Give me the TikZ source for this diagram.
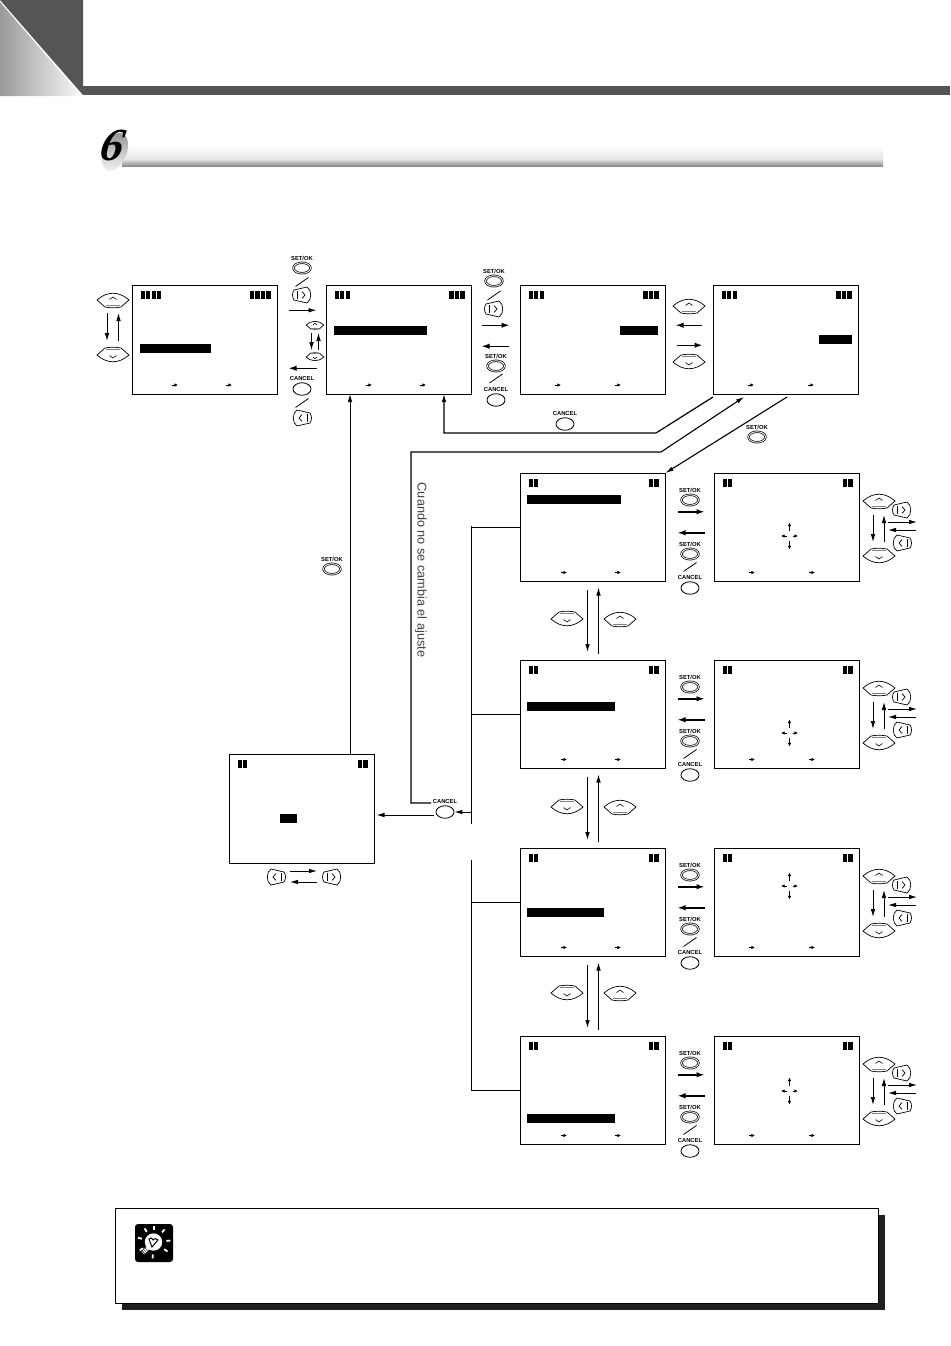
\documentclass[tikz,border=0pt]{standalone}
\usepackage{fontspec}
\setmainfont{Liberation Serif}
\setsansfont{Liberation Sans}
\usetikzlibrary{arrows.meta,shapes.geometric}
\definecolor{hdrdark}{HTML}{555555}
\definecolor{bargray}{HTML}{858585}
\tikzset{
 screen/.style={draw,line width=1pt,anchor=north west,minimum width=145,minimum height=108.5,inner sep=0,outer sep=0},
 thinarr/.style={line width=.9pt,-{Latex[length=8,width=4.6]}},
 thickarr/.style={line width=1.5pt,-{Latex[length=8,width=5.5]}},
 tinyarr/.style={line width=.8pt,-{Latex[length=3.6,width=3.4]}},
 conn/.style={line width=1pt},
 btnlabel/.style={font=\sffamily\bfseries\fontsize{5.8}{6}\selectfont,inner sep=0,label distance=1.8pt},
 okbtn/.style={draw,ellipse,double,double distance=.9pt,line width=.7pt,minimum width=17,minimum height=10.5,inner sep=0},
 cnlbtn/.style={draw,ellipse,line width=.8pt,minimum width=18,minimum height=12.5,inner sep=0},
 btnup/.pic={
  \draw[line width=.7pt,fill=white] (-16,0) .. controls (-6,-9) and (6,-9) .. (16,0) -- (8,7) .. controls (3,8) and (-3,8) .. (-8,7) -- cycle;
  \draw[line width=1pt,gray] (-7,5.5) -- (7,5.5);
  \draw[line width=.6pt] (-3.5,-.5) -- (0,-3) -- (3.5,-.5);
 },
 btndown/.pic={
  \draw[line width=.7pt,fill=white] (-16,0) .. controls (-6,9) and (6,9) .. (16,0) -- (8,-7) .. controls (3,-8) and (-3,-8) .. (-8,-7) -- cycle;
  \draw[line width=1pt,gray] (-7,-5.5) -- (7,-5.5);
  \draw[line width=.6pt] (-3.5,.5) -- (0,3) -- (3.5,.5);
 },
 btnright/.pic={
  \draw[line width=.7pt,fill=white] (-8,-5) -- (5,-8) .. controls (10,-5) and (10,5) .. (5,8) -- (-8,5) .. controls (-10,2) and (-10,-2) .. (-8,-5) -- cycle;
  \draw[line width=.5pt] (-5,-4) -- (-5,4);
  \draw[line width=.7pt] (0,-3.5) -- (3,0) -- (0,3.5);
 },
 btnleft/.pic={
  \draw[line width=.7pt,fill=white] (8,-5) -- (-5,-8) .. controls (-10,-5) and (-10,5) .. (-5,8) -- (8,5) .. controls (10,2) and (10,-2) .. (8,-5) -- cycle;
  \draw[line width=.5pt] (5,-4) -- (5,4);
  \draw[line width=.7pt] (0,-3.5) -- (-3,0) -- (0,3.5);
 },
}
% button placed by name, so that arrows can start from it
\newcommand{\upbtn}[4][1]{\pic[scale=#1] at (#3,#4) {btnup}; \coordinate (#2) at (#3,#4);}
\newcommand{\dnbtn}[4][1]{\pic[scale=#1] at (#3,#4) {btndown}; \coordinate (#2) at (#3,#4);}
\newcommand{\rgtbtn}[3]{\pic at (#2,#3) {btnright}; \coordinate (#1) at (#2,#3);}
\newcommand{\lftbtn}[3]{\pic at (#2,#3) {btnleft}; \coordinate (#1) at (#2,#3);}
\newcommand{\okkey}[3]{\node[okbtn,label={[btnlabel]above:SET/OK}] (#1) at (#2,#3) {};}
\newcommand{\cnlkey}[3]{\node[cnlbtn,label={[btnlabel]above:CANCEL}] (#1) at (#2,#3) {};}
\newcommand{\slashline}[2]{\draw[line width=.8pt] (#1-6.5,#2+4.5) -- (#1+6.5,#2-4.5);}
% battery blocks in both top corners
\newcommand{\sbars}[2]{
 \foreach \i in {1,...,#2} {
  \fill ([shift={({8+(\i-1)*5.5},5.5)}]#1.north west) rectangle +(4.2,8);
  \fill ([shift={({-7-(\i-1)*5.5},5.5)}]#1.north east) rectangle +(-4.2,8);
 }
}
% two small arrows at the bottom of a screen
\newcommand{\sarrows}[3]{
 \draw[tinyarr] ([shift={(#2-3,-9)}]#1.south west) -- +(6.5,0);
 \draw[tinyarr] ([shift={(#3-3,-9)}]#1.south west) -- +(6.5,0);
}
\begin{document}
\begin{tikzpicture}[x=1pt,y=-1pt]
 \useasboundingbox (0,0) rectangle (950,1346);
 % page header
 \fill[hdrdark] (0,0) -- (83,0) -- (83,95) -- cycle;
 \shade[left color=gray!80,right color=gray!5] (0,2) -- (81,96) -- (0,96) -- cycle;
 \fill[hdrdark] (83,86) rectangle (950,95);
 % section bar
 \shade[top color=white,bottom color=gray!20] (122,145) rectangle (883,159);
 \shade[top color=gray!20,bottom color=bargray] (122,159) rectangle (883,166.5);
 \shade[top color=gray!85,bottom color=gray!5,rotate around={-22:(115,152)}] (115,152) ellipse (11.5 and 20);
 \node[xslant=.2] (six) at (113,145) {\fontsize{46}{46}\selectfont\bfseries\itshape 6};

 % top row of screens
 \node[screen] (lcdA) at (132.5,285.5) {};
 \node[screen] (lcdB) at (326.5,285.5) {};
 \node[screen] (lcdC) at (520.5,285.5) {};
 \node[screen] (lcdD) at (713.5,285.5) {};
 \sbars{lcdA}{4} \sbars{lcdB}{3} \sbars{lcdC}{3} \sbars{lcdD}{3}
 \sarrows{lcdA}{42}{96} \sarrows{lcdB}{42}{96} \sarrows{lcdC}{37}{97} \sarrows{lcdD}{37}{97}
 \fill (140,344) rectangle (211,353);
 \fill (334,326) rectangle (427,335);
 \fill (620,326) rectangle (658,335);
 \fill (819,335) rectangle (852,344);

 % keys of screen A
 \upbtn{upA}{113}{300}
 \dnbtn{dnA}{113}{355}
 \draw[thinarr] ([shift={(-6,13)}]upA) -- ([shift={(-6,-14)}]dnA);
 \draw[thinarr] ([shift={(5.5,-14)}]dnA) -- ([shift={(5.5,13)}]upA);

 % A and B
 \okkey{okA}{302}{268}
 \slashline{302}{282}
 \rgtbtn{rgtA}{302}{295}
 \draw[thinarr] ([shift={(11,-29.5)}]lcdA.east) -- ([shift={(-10,-29.5)}]lcdB.west);
 \upbtn[.55]{upB}{315}{325}
 \dnbtn[.55]{dnB}{315}{357}
 \draw[thinarr,line width=.7pt] ([shift={(-3.5,8)}]upB) -- ([shift={(-3.5,-7)}]dnB);
 \draw[thinarr,line width=.7pt] ([shift={(3.5,-7)}]dnB) -- ([shift={(3.5,8)}]upB);
 \draw[thickarr] ([shift={(-10,28.5)}]lcdB.west) -- ([shift={(11,28.5)}]lcdA.east);
 \cnlkey{cnlA}{302}{389}
 \slashline{302}{403}
 \lftbtn{lftA}{302}{418}

 % B and C
 \okkey{okB}{494}{281}
 \slashline{494}{295.5}
 \rgtbtn{rgtB}{494}{309}
 \draw[thickarr] ([shift={(10,-14.5)}]lcdB.east) -- ([shift={(-11,-14.5)}]lcdC.west);
 \draw[thickarr] ([shift={(-12,6.5)}]lcdC.west) -- ([shift={(10,6.5)}]lcdB.east);
 \okkey{okC}{496}{366}
 \slashline{496}{378.5}
 \cnlkey{cnlB}{496}{400}

 % C and D
 \upbtn{upC}{689}{306}
 \dnbtn{dnC}{689}{362}
 \draw[thickarr] ([shift={(-12,-14.5)}]lcdD.west) -- ([shift={(10,-14.5)}]lcdC.east);
 \draw[thickarr] ([shift={(11,5.5)}]lcdC.east) -- ([shift={(-11,5.5)}]lcdD.west);

 % four rows of position screens
 \foreach \r/\t/\c/\hr/\hy in {1/473/63/621/495,2/660/73/615/702,3/848/38/604/908,4/1036/55/615/1114} {
  \node[screen] (rowL\r) at (520.5,\t) {};
  \node[screen] (rowR\r) at (714.5,\t) {};
  \sbars{rowL\r}{2} \sbars{rowR\r}{2}
  \sarrows{rowL\r}{43}{97} \sarrows{rowR\r}{37}{97}
  \fill (527,\hy) rectangle (\hr,\hy+9);
  \foreach \b in {-5,5} \draw[tinyarr] ([shift={(75,\c+\b)}]rowR\r.north west) -- +(0,\b*1.7);
  \foreach \a/\b in {-3/-5.5,3/5.5} \draw[tinyarr] ([shift={(75+\a,\c)}]rowR\r.north west) -- +(\b,0);
  % keys between the screens
  \okkey{okR\r}{690}{\t+27}
  \draw[thickarr] ([shift={(12,-15.5)}]rowL\r.east) -- ([shift={(-10,-15.5)}]rowR\r.west);
  \draw[thickarr] ([shift={(-10,5.5)}]rowR\r.west) -- ([shift={(12,5.5)}]rowL\r.east);
  \okkey{okS\r}{690}{\t+81}
  \slashline{690}{\t+94}
  \cnlkey{cnlR\r}{690}{\t+115}
  % keys on the right side
  \upbtn{upR\r}{879}{\t+28}
  \dnbtn{dnR\r}{879}{\t+83}
  \rgtbtn{rgtR\r}{902}{\t+37}
  \lftbtn{lftR\r}{902}{\t+70}
  \draw[thinarr] ([shift={(-6,14)}]upR\r) -- ([shift={(-6,-14)}]dnR\r);
  \draw[thinarr] ([shift={(5,-14)}]dnR\r) -- ([shift={(5,14)}]upR\r);
  \draw[thinarr] ([shift={(-14,12)}]rgtR\r) -- +(29,0);
  \draw[thinarr] ([shift={(14,-13)}]lftR\r) -- +(-28,0);
 }

 % moving between the rows
 \foreach \u/\v/\y in {1/2/619,2/3/807,3/4/993} {
  \dnbtn{dnV\u}{567}{\y}
  \upbtn{upV\u}{620}{\y}
  \draw[thinarr] ([shift={(-5.5,8)}]rowL\u.south) -- ([shift={(-5.5,-8)}]rowL\v.north);
  \draw[thinarr] ([shift={(5.5,-6)}]rowL\v.north) -- ([shift={(5.5,6)}]rowL\u.south);
 }

 % adjust screen
 \node[screen] (lcdE) at (229.5,754.5) {};
 \sbars{lcdE}{2}
 \fill (280,814) rectangle (297,823);
 \lftbtn{lftE}{276}{877}
 \rgtbtn{rgtE}{332}{877}
 \draw[thinarr] ([shift={(14,-6)}]lftE) -- ([shift={(-15,-6)}]rgtE);
 \draw[thinarr] ([shift={(-15,5)}]rgtE) -- ([shift={(14,5)}]lftE);

 % long connectors
 \coordinate (backA) at (656,433);
 \coordinate (backB) at (444,433);
 \draw[thinarr,line width=1.2pt] ([shift={(-.5,3)}]lcdD.south west) -- (backA) -- (backB) -- (backB |- lcdB.south);
 \cnlkey{cnlC}{565}{424}

 \cnlkey{cnlD}{445}{812}
 \coordinate (sideA) at (411,803);
 \coordinate (sideB) at (411,452);
 \coordinate (sideC) at (661,452);
 \coordinate (sideD) at (744,397);
 \draw[thinarr,line width=1.1pt] (431,803) -- (sideA) -- (sideB) -- (sideC) -- (sideD);

 \coordinate (fromD) at (787,397);
 \draw[thinarr,line width=1.1pt] (fromD) -- (rowL1.north east);
 \okkey{okD}{757}{437}

 \draw[thinarr] (lcdE.north -| 350,0) -- (lcdB.south -| 350,0);
 \okkey{okE}{332}{569}

 % bracket to the cancel key
 \coordinate (brkA) at (471,526);
 \coordinate (brkB) at (471,824);
 \coordinate (brkC) at (471,860);
 \coordinate (brkD) at (471,1090);
 \draw[conn] (brkA) -- (brkB);
 \draw[conn] (brkC) -- (brkD);
 \foreach \r in {1,2,3,4} \draw[conn] (rowL\r.west) -- (rowL\r.west -| brkA);
 \draw[thinarr] (cnlD.east -| brkA) -- (cnlD.east);
 \draw[thinarr] ([shift={(-2,3)}]cnlD.west) -- ([shift={(2,0)}]lcdE.east |- 0,815);

 \node[rotate=-90,font=\sffamily\fontsize{12.7}{13}\selectfont,text=black!75] (noChange) at (421,570) {Cuando no se cambia el ajuste};

 % note box
 \fill[black!88] (122,1215) rectangle (885,1310);
 \draw[line width=.8pt,fill=white] (115,1208) rectangle (878,1303);
 \fill[rounded corners=3] (135,1224) rectangle (173,1262);
 \foreach \a in {-165,-125,-90,-50,-5,35,95,150} \draw[white,line width=1.8pt] ([shift={(\a:12.5)}]154,1242) -- ([shift={(\a:16.5)}]154,1242);
 \fill[white] (153.5,1242) circle (8.7);
 \draw[line width=1pt] (152,1247) -- (149,1239) .. controls (151,1237) and (152,1238) .. (153,1240) .. controls (154,1238) and (156,1238) .. (158,1240) -- cycle;
 \draw[white,line width=4pt,dash pattern=on 1.2pt off .8pt] (149,1247) -- (143,1253);
\end{tikzpicture}
\end{document}
